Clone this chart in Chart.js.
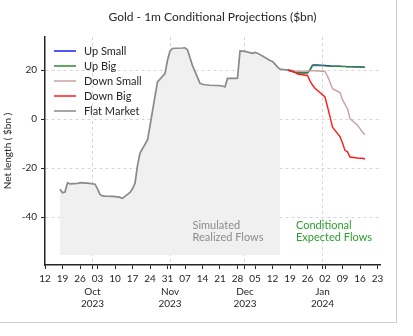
<!DOCTYPE html>
<html>
<head>
<meta charset="utf-8">
<script src="https://cdn.jsdelivr.net/npm/chart.js@4.4.0/dist/chart.umd.min.js"></script>
<style>
  body { margin: 0; background: #fff; }
  #wrap { position: relative; width: 413px; height: 336px; }
  #frame { position: absolute; left: 0; top: 0; width: 396px; height: 322px;
           border-right: 1px solid #c9d1dc; border-bottom: 1px solid #c9d1dc; pointer-events: none; }
</style>
</head>
<body>
<div id="wrap">
  <canvas id="chart" width="413" height="336"></canvas>
  <div id="frame"></div>
</div>
<script>
// realized (simulated) flows, $bn
const realizedDates = [
  '2023-09-18','2023-09-19','2023-09-20','2023-09-21','2023-09-22','2023-09-25','2023-09-26','2023-09-27','2023-09-28','2023-09-29',
  '2023-10-02','2023-10-03','2023-10-04','2023-10-05','2023-10-06','2023-10-09','2023-10-10','2023-10-11','2023-10-12','2023-10-13',
  '2023-10-16','2023-10-17','2023-10-18','2023-10-19','2023-10-20','2023-10-23','2023-10-24','2023-10-25','2023-10-26','2023-10-27',
  '2023-10-30','2023-10-31','2023-11-01','2023-11-02','2023-11-03','2023-11-06','2023-11-07','2023-11-08','2023-11-09','2023-11-10',
  '2023-11-13','2023-11-14','2023-11-15','2023-11-16','2023-11-17','2023-11-20','2023-11-21','2023-11-22','2023-11-23','2023-11-24',
  '2023-11-27','2023-11-28','2023-11-29','2023-11-30','2023-12-01','2023-12-04','2023-12-05','2023-12-06','2023-12-07','2023-12-08',
  '2023-12-11','2023-12-12','2023-12-13','2023-12-14','2023-12-15','2023-12-18'
];
const flatMarket = [
  -28.7, -30.1, -29.8, -26.0, -26.5, -26.3, -26.1, -26.0, -26.2, -26.2,
  -26.6, -28.5, -30.8, -31.4, -31.5, -31.6, -31.7, -31.8, -32.0, -32.4,
  -30.0, -28.5, -26.2, -19.0, -13.9, -8.5, -2.8, 3.2, 9.4, 15.2,
  18.6, 24.0, 27.8, 28.8, 28.9, 29.0, 29.1, 28.2, 25.0, 21.8,
  14.6, 14.2, 14.0, 13.9, 13.8, 13.7, 13.6, 13.5, 13.1, 16.6,
  16.6, 16.7, 27.8, 27.7, 27.6, 26.8, 27.2, 26.9, 26.3, 25.7,
  23.9, 23.5, 22.4, 21.2, 20.4, 20.0
];
const shadeEnd = '2023-12-15';
const shadeFloor = -55.5;

// conditional expected flows, $bn
const projDates = [
  '2023-12-18','2023-12-19','2023-12-20','2023-12-21','2023-12-22','2023-12-26','2023-12-27','2023-12-28','2023-12-29',
  '2024-01-02','2024-01-03','2024-01-04','2024-01-05','2024-01-08','2024-01-09','2024-01-10','2024-01-11','2024-01-12',
  '2024-01-15','2024-01-16','2024-01-17','2024-01-18'
];
const upSmall   = [20.0, 19.7, 19.4, 19.2, 18.9, 18.9, 20.2, 22.0, 22.1, 21.9, 21.8, 21.7, 21.6, 21.6, 21.5, 21.5, 21.4, 21.4, 21.3, 21.3, 21.2, 21.2];
const upBig     = [20.0, 19.7, 19.4, 19.2, 18.9, 18.9, 20.0, 21.8, 21.9, 21.7, 21.6, 21.6, 21.5, 21.5, 21.4, 21.4, 21.3, 21.4, 21.2, 21.3, 21.2, 21.1];
const downSmall = [20.0, 19.9, 19.8, 19.6, 19.5, 19.6, 19.7, 19.7, 19.7, 19.4, 17.6, 15.0, 12.4, 10.8, 7.9, 6.0, 4.2, 0.2, -2.5, -3.9, -5.4, -6.4];
const downBig   = [20.0, 19.8, 19.6, 19.0, 18.4, 17.8, 15.6, 13.9, 12.6, 9.0, 5.0, 1.0, -3.3, -7.2, -9.8, -12.8, -13.4, -15.5, -15.9, -16.0, -16.0, -16.3];

// axes
const startDate = '2023-09-12';
const xSpanDays = 134;
const yTicks = [-40, -20, 0, 20];
const yMin = -59.6, yMax = 33.5;
const monthTickDates = ['2023-10-01', '2023-11-01', '2023-12-01', '2024-01-01'];
const monthLabels = ['Oct', 'Nov', 'Dec', 'Jan'];
const yearLabels = ['2023', '2023', '2023', '2024'];

const day = s => (Date.UTC(+s.slice(0, 4), +s.slice(5, 7) - 1, +s.slice(8, 10)) - Date.UTC(+startDate.slice(0, 4), +startDate.slice(5, 7) - 1, +startDate.slice(8, 10))) / 864e5;
const pts = (dates, vals) => dates.map((d, i) => ({ x: day(d), y: vals[i] }));

const monthDays = monthTickDates.map(day);
const weekDays = [];
for (let d = 0; d <= xSpanDays; d += 7) weekDays.push(d);
const allTicks = weekDays.concat(monthDays).sort((a, b) => a - b);

const shadeIdx = realizedDates.indexOf(shadeEnd);
const FONT = 'Lato, "Noto Sans", sans-serif';
const INK = '#262626';

function tickLabel(v) {
  const m = monthDays.indexOf(v);
  if (m >= 0) return ['', monthLabels[m], yearLabels[m]];
  const dt = new Date(Date.UTC(2023, 8, 12) + v * 864e5);
  return String(dt.getUTCDate()).padStart(2, '0');
}

const extras = {
  id: 'extras',
  afterDatasetsDraw(chart) {
    const { ctx, chartArea, scales } = chart;
    ctx.save();
    // region captions
    ctx.font = '11px ' + FONT;
    ctx.textBaseline = 'middle';
    ctx.textAlign = 'left';
    ctx.fillStyle = '#8c8c8c';
    const sx = scales.x.getPixelForValue(day('2023-11-10'));
    ctx.fillText('Simulated', sx, scales.y.getPixelForValue(-43.3));
    ctx.fillText('Realized Flows', sx, scales.y.getPixelForValue(-48.2));
    ctx.fillStyle = '#2ca02c';
    const cx = scales.x.getPixelForValue(day('2023-12-21') + 0.4);
    ctx.fillText('Conditional', cx, scales.y.getPixelForValue(-43.3));
    ctx.fillText('Expected Flows', cx, scales.y.getPixelForValue(-48.2));

    // legend
    ctx.font = '11px ' + FONT;
    let row = 0;
    chart.data.datasets.forEach(ds => {
      if (!ds.label) return;
      const y = chartArea.top + 14 + row * 15;
      ctx.strokeStyle = ds.borderColor;
      ctx.lineWidth = 1.5;
      ctx.beginPath();
      ctx.moveTo(chartArea.left + 9, y);
      ctx.lineTo(chartArea.left + 31, y);
      ctx.stroke();
      ctx.fillStyle = INK;
      ctx.fillText(ds.label, chartArea.left + 39, y);
      row++;
    });

    // title
    ctx.font = '12px ' + FONT;
    ctx.textAlign = 'center';
    ctx.fillStyle = INK;
    ctx.fillText('Gold - 1m Conditional Projections ($bn)', (chartArea.left + chartArea.right) / 2, 17);
    ctx.restore();
  }
};

const line = (label, data, color, order, width) => ({
  label, data, borderColor: color, backgroundColor: color, borderWidth: width || 1.4,
  pointRadius: 0, tension: 0, fill: false, order
});

new Chart(document.getElementById('chart'), {
  type: 'line',
  data: {
    datasets: [
      line('Up Small', pts(projDates, upSmall), '#1a1aff', 4),
      line('Up Big', pts(projDates, upBig), '#2e8b2e', 3),
      line('Down Small', pts(projDates, downSmall), '#c9a0a0', 2),
      line('Down Big', pts(projDates, downBig), '#ff1a1a', 1),
      line('Flat Market', pts(realizedDates, flatMarket), '#8a8a8a', 0, 1.7),
      {
        data: pts(realizedDates.slice(0, shadeIdx + 1), flatMarket.slice(0, shadeIdx + 1)),
        borderWidth: 0, pointRadius: 0, backgroundColor: '#f0f0f0',
        fill: { value: shadeFloor }, order: 10
      }
    ]
  },
  options: {
    responsive: false,
    animation: false,
    events: [],
    layout: { padding: { top: 37, right: 33, left: 0, bottom: 0 } },
    plugins: { legend: { display: false }, title: { display: false }, tooltip: { enabled: false } },
    scales: {
      x: {
        type: 'linear', min: 0, max: xSpanDays,
        afterBuildTicks: s => { s.ticks = allTicks.map(v => ({ value: v })); },
        afterFit: s => { s.height = 71; },
        ticks: {
          autoSkip: false, maxRotation: 0, padding: 4, color: INK,
          font: { family: FONT, size: 10, lineHeight: 1.25 },
          callback: v => tickLabel(v)
        },
        grid: {
          color: c => (c.tick && monthDays.includes(c.tick.value)) ? '#d6d6d6' : 'rgba(0,0,0,0)',
          tickColor: INK, tickLength: 4, lineWidth: 1
        },
        border: { display: true, color: INK, width: 1.5, dash: [3, 3] }
      },
      y: {
        min: yMin, max: yMax,
        afterBuildTicks: s => { s.ticks = yTicks.map(v => ({ value: v })); },
        afterFit: s => { s.width = 45; },
        ticks: { padding: 4, color: INK, font: { family: FONT, size: 10 } },
        grid: { color: '#d6d6d6', tickColor: INK, tickLength: 4, lineWidth: 1 },
        border: { display: true, color: INK, width: 1.5, dash: [3, 3] },
        title: { display: true, text: 'Net length ( $bn )', color: INK, font: { family: FONT, size: 10 }, padding: { top: 2, bottom: 0 } }
      }
    }
  },
  plugins: [extras]
});
</script>
</body>
</html>
